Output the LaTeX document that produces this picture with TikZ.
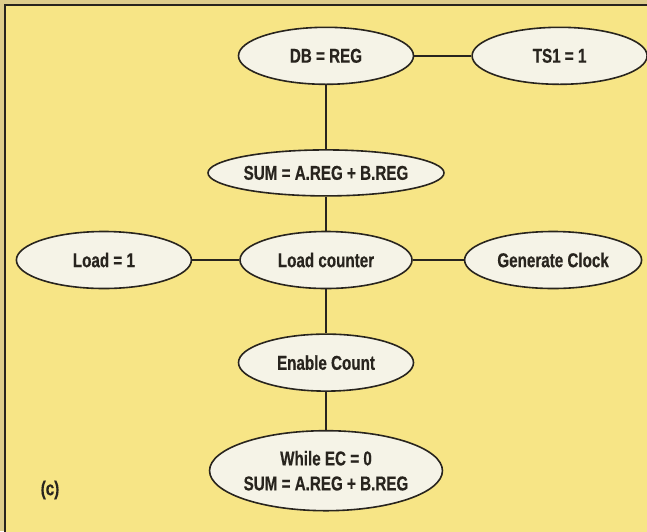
\documentclass[tikz,border=0pt]{standalone}
\usepackage{fontspec}
\setmainfont{Liberation Sans}[FakeStretch=0.76,BoldFeatures={FakeStretch=0.76,FakeBold=0.4}]
\usepackage{tikz}
\usepackage{xcolor}
\usetikzlibrary{positioning,shapes}
\definecolor{paper}{RGB}{247,229,134}
\definecolor{margin}{RGB}{222,205,140}
\definecolor{ink}{RGB}{40,36,30}
\definecolor{bubble}{RGB}{245,243,231}
\tikzset{%
  link/.style={draw=ink,line width=1.5pt},
  state/.style={ellipse,draw=ink,fill=bubble,line width=1.6pt,inner sep=0pt,
    minimum width=175pt,minimum height=57pt,text=ink,
    font=\fontsize{20}{25}\selectfont\bfseries,align=center},
  tag/.style={text=ink,font=\fontsize{20}{24}\selectfont\bfseries},
}

\begin{document}
\begin{tikzpicture}[x=1pt,y=-1pt]
      \useasboundingbox (0,0) rectangle (647,531);
      \clip (0,0) rectangle (647,531);
      \fill[margin] (0,0) rectangle (647,531);
      \draw[ink,fill=paper,line width=2pt] (5,5) rectangle (660,545);

      % middle row first, the rest hangs off it
      \node[state,minimum width=172pt] (counter) at (326,260) {Load counter};
      \node[state,left=47pt of counter] (load) {Load = 1};
      \node[state,right=51pt of counter,minimum width=177pt] (clock) {Generate Clock};
      \node[state,above=34pt of counter,minimum width=236pt,minimum height=46pt] (sum) {SUM = A.REG + B.REG};
      \node[state,above=64pt of sum] (db) {DB = REG};
      \node[state,right=57pt of db] (ts) {TS1 = 1};
      \node[state,below=44pt of counter] (enable) {Enable Count};
      \node[state,below=38pt of enable,minimum width=231pt,minimum height=80pt] (while) {While EC = 0\\SUM = A.REG + B.REG};

      \node[tag] (part) at (50,490) {(c)};

      \draw[link] (db) -- (ts);
      \draw[link] (db) -- (sum);
      \draw[link] (sum) -- (counter);
      \draw[link] (load) -- (counter);
      \draw[link] (counter) -- (clock);
      \draw[link] (counter) -- (enable);
      \draw[link] (enable) -- (while);
    \end{tikzpicture}
\end{document}
